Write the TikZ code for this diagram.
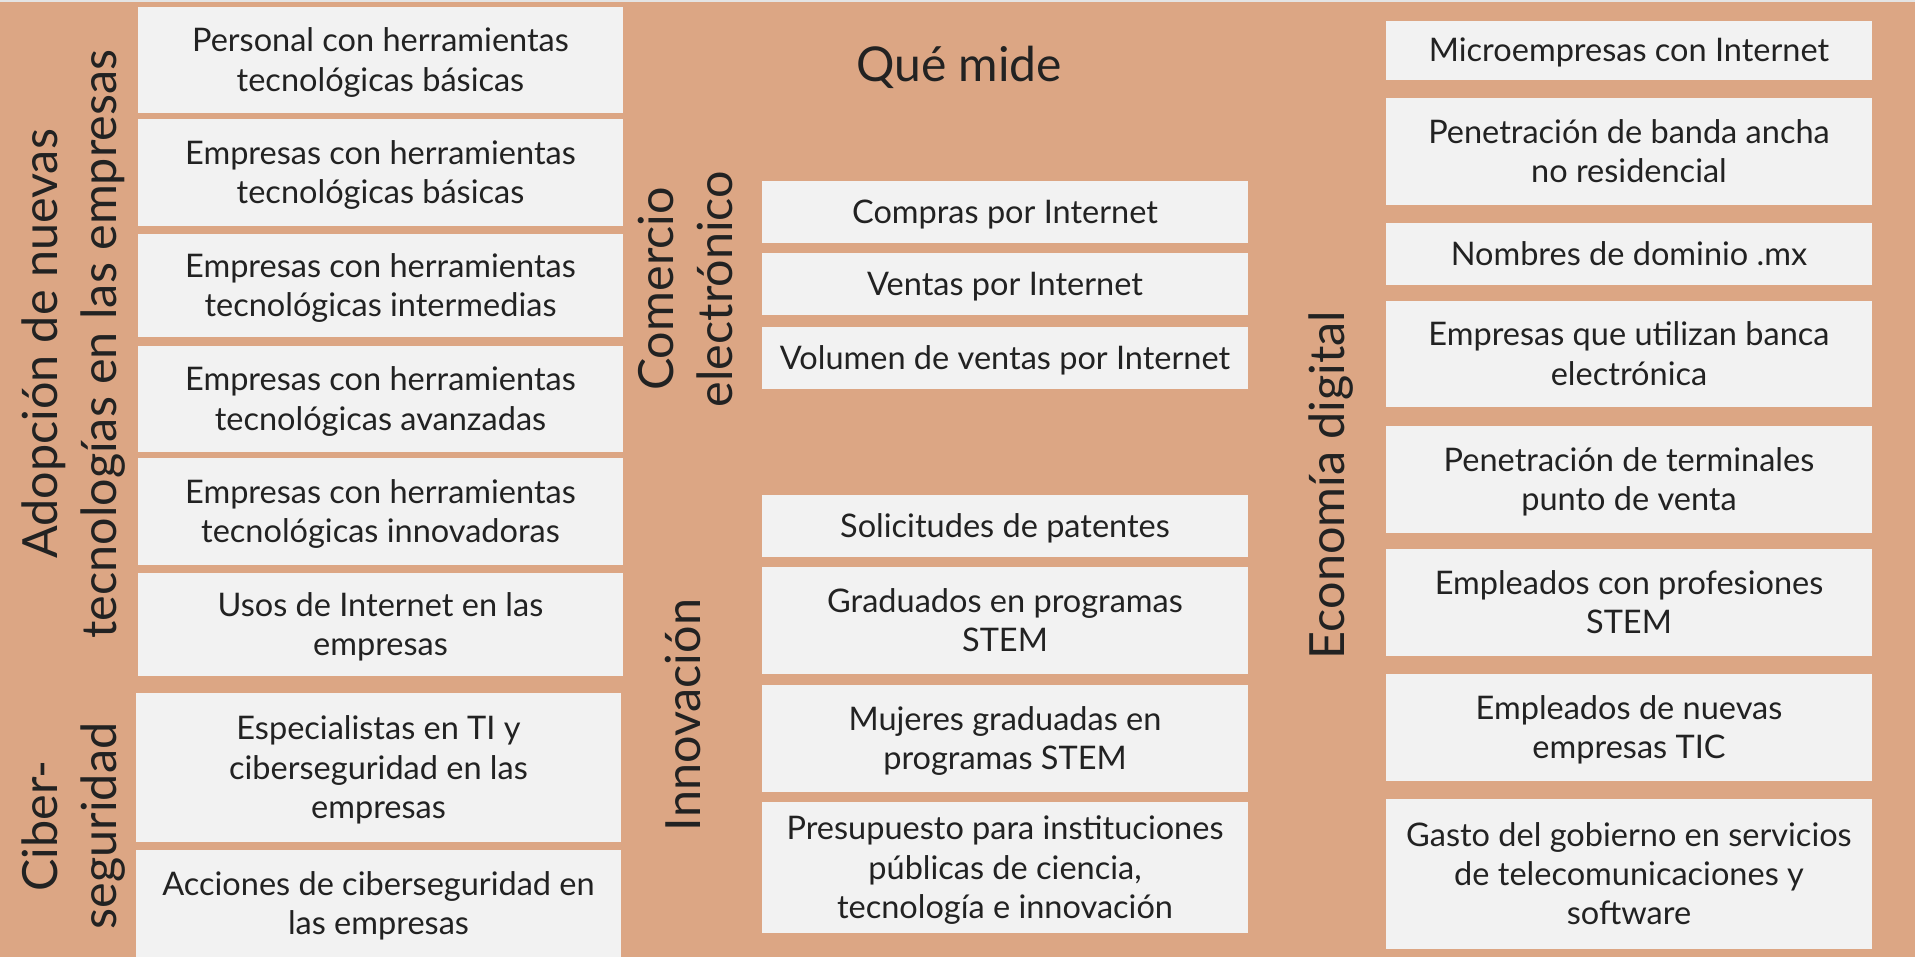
\documentclass[tikz,border=0pt]{standalone}
\usepackage{fontspec}
\setmainfont{Lato}
\usetikzlibrary{positioning}
\definecolor{bg}{HTML}{DCA684}
\definecolor{topgray}{HTML}{E4E4E4}
\definecolor{cardgray}{HTML}{F2F2F2}
\definecolor{ink}{HTML}{222222}
\tikzset{
  card/.style={fill=cardgray, text=ink, align=center, inner sep=0pt, font=\fontsize{32.5}{39.3}\selectfont},
  colL/.style={card, minimum width=485pt},
  colM/.style={card, minimum width=486pt},
  one/.style={text height=30.5pt, text depth=7.5pt},
  two/.style={text height=69.8pt, text depth=7.5pt},
  three/.style={text height=109.1pt, text depth=7.5pt},
  head/.style={text=ink, align=center, inner sep=0pt, rotate=90, font=\fontsize{48.5}{59}\selectfont},
  title/.style={text=ink, inner sep=0pt, font=\fontsize{48}{56}\selectfont},
}

\begin{document}
\begin{tikzpicture}[x=1pt, y=-1pt]
  \useasboundingbox (0,0) rectangle (1915,957);
  \fill[bg] (0,0) rectangle (1915,957);
  \fill[topgray] (0,0) rectangle (1915,2);

  % left column
  \node[head] (adopcion) at (74,344) {Adopción de nuevas\\tecnologías en las empresas};
  \node[colL, two, minimum height=106pt] (adop1) at (380.5,60) {Personal con herramientas\\tecnológicas básicas};
  \node[colL, two, minimum height=107pt] (adop2) at (380.5,172.5) {Empresas con herramientas\\tecnológicas básicas};
  \node[colL, two, minimum height=103pt] (adop3) at (380.5,285.5) {Empresas con herramientas\\tecnológicas intermedias};
  \node[colL, two, minimum height=106pt] (adop4) at (380.5,399) {Empresas con herramientas\\tecnológicas avanzadas};
  \node[colL, two, minimum height=107pt] (adop5) at (380.5,511.5) {Empresas con herramientas\\tecnológicas innovadoras};
  \node[colL, two, minimum height=103pt] (adop6) at (380.5,624.5) {Usos de Internet en las\\empresas};

  \node[head] (ciber) at (74,826) {Ciber-\\seguridad};
  \node[colL, three, minimum height=149pt] (ciber1) at (378.5,767.5) {Especialistas en TI y\\ciberseguridad en las\\empresas};
  \node[colL, two, minimum height=107pt] (ciber2) at (378.5,903.5) {Acciones de ciberseguridad en\\las empresas};

  % middle column
  \node[title, anchor=base] (quemide) at (959,82) {Qué mide};
  \node[head] (comercio) at (685,289) {Comercio\\electrónico};
  \node[colM, one, minimum height=62pt] (com1) at (1005,212) {Compras por Internet};
  \node[colM, one, minimum height=62pt] (com2) at (1005,284) {Ventas por Internet};
  \node[colM, one, minimum height=62pt] (com3) at (1005,358) {Volumen de ventas por Internet};

  \node[head, anchor=base] (innovacion) at (700,715) {Innovación};
  \node[colM, one, minimum height=62pt] (inn1) at (1005,526) {Solicitudes de patentes};
  \node[colM, two, minimum height=107pt] (inn2) at (1005,620.5) {Graduados en programas\\STEM};
  \node[colM, two, minimum height=107pt] (inn3) at (1005,738.5) {Mujeres graduadas en\\programas STEM};
  \node[colM, three, minimum height=131pt] (inn4) at (1005,867.5) {Presupuesto para instituciones\\públicas de ciencia,\\tecnología e innovación};

  % right column
  \node[head, anchor=base] (economia) at (1344,485) {Economía digital};
  \node[colM, one, minimum height=59pt] (eco1) at (1629,50.5) {Microempresas con Internet};
  \node[colM, two, minimum height=107pt] (eco2) at (1629,151.5) {Penetración de banda ancha\\no residencial};
  \node[colM, one, minimum height=62pt] (eco3) at (1629,254) {Nombres de dominio .mx};
  \node[colM, two, minimum height=106pt] (eco4) at (1629,354) {Empresas que utilizan banca\\electrónica};
  \node[colM, two, minimum height=107pt] (eco5) at (1629,479.5) {Penetración de terminales\\punto de venta};
  \node[colM, two, minimum height=107pt] (eco6) at (1629,602.5) {Empleados con profesiones\\STEM};
  \node[colM, two, minimum height=107pt] (eco7) at (1629,727.5) {Empleados de nuevas\\empresas TIC};
  \node[colM, three, minimum height=150pt] (eco8) at (1629,874) {Gasto del gobierno en servicios\\de telecomunicaciones y\\software};
\end{tikzpicture}
\end{document}
